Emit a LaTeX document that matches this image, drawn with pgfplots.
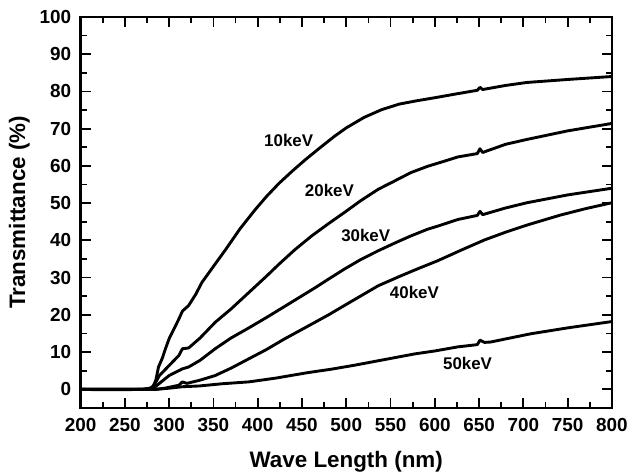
\documentclass[border=0pt]{standalone}
\usepackage{fontspec}
\setmainfont{Liberation Sans}
\usepackage{pgfplots}
\pgfplotsset{compat=1.18}

\begin{document}
\begin{tikzpicture}
\begin{axis}[
  scale only axis,
  width=534pt, height=393pt,
  xmin=200, xmax=800, ymin=-5, ymax=100,
  xtick={200,250,...,800}, ytick={0,10,...,100},
  minor x tick num=1, minor y tick num=1,
  tick align=inside,
  tickwidth=10pt, subtickwidth=6pt,
  major tick style={draw=black, line width=1.8pt},
  minor tick style={draw=black, line width=1.8pt},
  axis line style={line width=2.4pt},
  xticklabel style={font=\fontsize{19}{21}\selectfont\bfseries, yshift=-7pt},
  yticklabel style={font=\fontsize{19}{21}\selectfont\bfseries, xshift=-6pt},
  /pgf/number format/assume math mode=true,
  /pgf/number format/1000 sep={},
  xlabel={Wave Length (nm)}, ylabel={Transmittance (\%)},
  label style={font=\fontsize{22.5}{25}\selectfont\bfseries},
  xlabel style={yshift=-13pt},
  ylabel style={yshift=3pt},
  every axis plot post/.append style={black, mark=none, line width=2.9pt, line join=round},
]
% 10 keV
\addplot coordinates {
(200,0) (220,-0.1) (250,-0.1) (270,0) (278,0.3) (282,0.8) (285,2.5) (288,6)
(292.5,8.5) (296,11) (300,13.6) (305,16) (311,18.9) (315,21) (322,22.5)
(330,25.5) (337,28.7) (350,33) (364,37.6) (380,43.1) (397,48.2) (410,51.8)
(424,55.3) (440,58.8) (454,61.7) (470,64.8) (487,68) (500,70.2) (520,73)
(540,75.1) (560,76.6) (580,77.5) (600,78.3) (626,79.4) (648,80.3) (651,81.1)
(654,80.5) (680,81.6) (704,82.4) (750,83.2) (800,84)
};
% 20 keV
\addplot coordinates {
(200,0) (270,0) (280,0.3) (284,1.5) (289,3.7) (300,6.4) (311,9.1) (315,10.9)
(322,11.1) (335,13.8) (352,18) (370,21.6) (390,26) (410,30.4) (424,33.6)
(442,37.5) (461,41.2) (480,44.5) (498,47.5) (516,50.6) (536,53.7) (555,56)
(573,58.2) (592,59.9) (610,61.2) (626,62.4) (648,63.3) (651,64.6) (654,63.6)
(680,65.8) (704,67.1) (750,69.4) (800,71.4)
};
% 30 keV
\addplot coordinates {
(200,0) (280,0) (285,0.8) (290,1.8) (300,3.7) (315,5.5) (322,6) (335,7.8)
(352,10.9) (370,13.8) (390,16.5) (410,19.3) (430,22.2) (465,27.3) (480,29.6)
(498,32.3) (516,34.8) (536,37.2) (555,39.3) (573,41.2) (592,43) (603,43.8)
(626,45.6) (648,46.7) (651,47.8) (654,46.9) (680,48.7) (704,50.1) (750,52.2)
(800,54)
};
% 40 keV
\addplot coordinates {
(200,0) (285,0) (295,0.3) (305,0.8) (311,1.1) (315,2) (320,1.6) (334,2.4)
(352,3.7) (370,5.7) (390,8.2) (410,10.7) (430,13.5) (457,17) (480,20)
(500,22.8) (536,27.8) (560,30.3) (580,32.3) (603,34.5) (630,37.4) (656,40.1)
(680,42.2) (704,44.1) (742,46.8) (770,48.5) (800,50.1)
};
% 50 keV
\addplot coordinates {
(200,0) (285,0) (300,0.3) (315,0.7) (334,0.9) (360,1.5) (390,2) (420,3)
(457,4.5) (483,5.4) (510,6.5) (539,7.8) (577,9.5) (600,10.3) (626,11.4)
(648,12) (651,13.2) (656,12.6) (663,12.7) (708,14.9) (750,16.5) (800,18.2)
};
\begin{scope}[every node/.style={font=\fontsize{17}{19}\selectfont\bfseries}]
\node at (axis cs:435,66.7) {10keV};
\node at (axis cs:481,53.3) {20keV};
\node at (axis cs:522,41.2) {30keV};
\node at (axis cs:577,26.1) {40keV};
\node at (axis cs:637,6.9) {50keV};
\end{scope}
\end{axis}
% page margins around the plot area
\path ([xshift=-81pt,yshift=-64pt]current axis.south west)
  rectangle ([xshift=16pt,yshift=17pt]current axis.north east);
\end{tikzpicture}
\end{document}
